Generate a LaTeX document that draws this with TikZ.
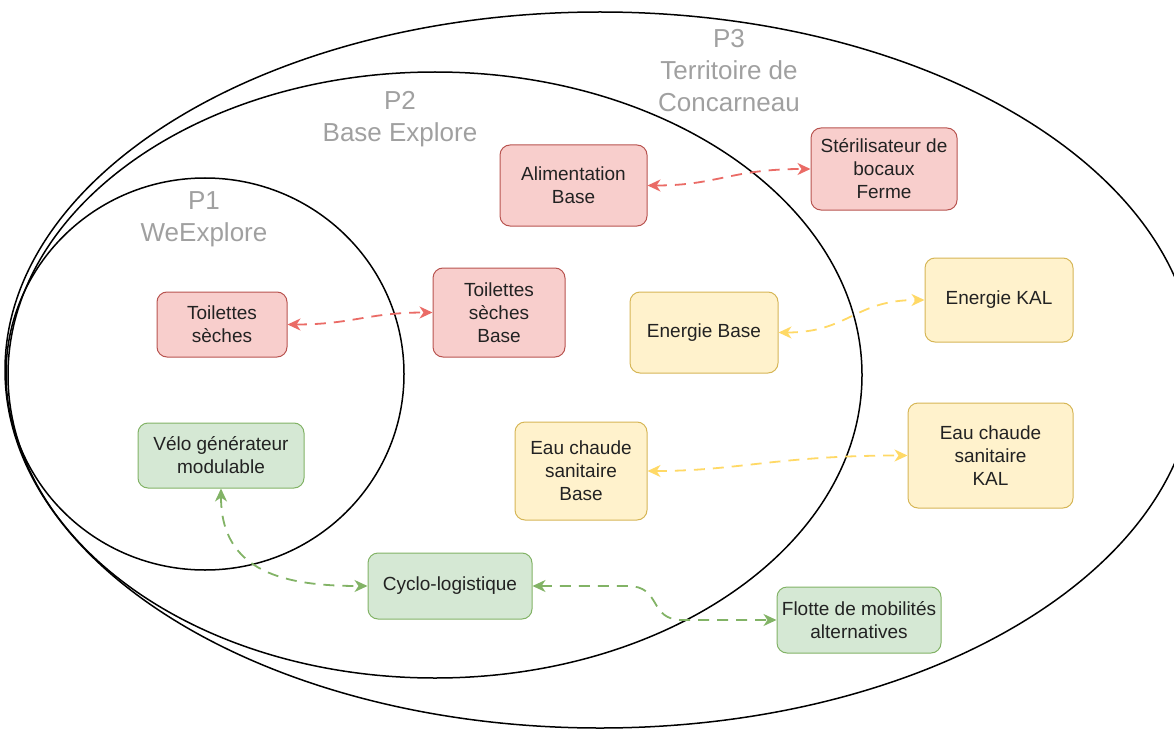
\documentclass[tikz,border=0pt]{standalone}
\usepackage{fontspec}
\setmainfont{Liberation Sans}
\usetikzlibrary{arrows.meta}
\definecolor{rfill}{HTML}{F8CECC}
\definecolor{rdraw}{HTML}{B85450}
\definecolor{redge}{HTML}{EA6B66}
\definecolor{yfill}{HTML}{FFF2CC}
\definecolor{ydraw}{HTML}{D6B656}
\definecolor{yedge}{HTML}{FFD966}
\definecolor{gfill}{HTML}{D5E8D4}
\definecolor{gdraw}{HTML}{82B366}
\definecolor{gedge}{HTML}{82B366}
\definecolor{lblgray}{HTML}{A0A0A0}
\definecolor{txt}{HTML}{222222}
\tikzset{
  zone/.style={draw=black, line width=1.5pt},
  zonelabel/.style={text=lblgray, align=center, font=\fontsize{26}{32}\selectfont, inner sep=0pt},
  box/.style={rounded corners=10pt, line width=1pt, align=center, inner sep=0pt,
    text=txt, font=\fontsize{19}{23}\selectfont},
  redbox/.style={box, fill=rfill, draw=rdraw},
  yelbox/.style={box, fill=yfill, draw=ydraw},
  grnbox/.style={box, fill=gfill, draw=gdraw},
  link/.style={line width=1.8pt, dash pattern=on 11pt off 8pt,
    arrows={Stealth[length=13pt,width=12pt,inset=4pt]-Stealth[length=13pt,width=12pt,inset=4pt]}},
  redlink/.style={link, draw=redge},
  yellink/.style={link, draw=yedge},
  grnlink/.style={link, draw=gedge}
}
\begin{document}
\begin{tikzpicture}[x=1pt,y=-1pt]
\useasboundingbox (0,0) rectangle (1174,730);
% zones
\draw[zone] (600,370) ellipse [x radius=595pt, y radius=358pt];
\draw[zone] (435,375) ellipse [x radius=427pt, y radius=303pt];
\draw[zone] (205,374) ellipse [x radius=199pt, y radius=196pt];
% zone labels
\node[zonelabel] (lp1) at (204,219) {P1\\WeExplore};
\node[zonelabel] (lp2) at (400,119) {P2\\Base Explore};
\node[zonelabel] (lp3) at (729,71) {P3\\Territoire de\\Concarneau};
% nodes
\node[redbox, minimum width=147pt, minimum height=81pt] (alim) at (573.5,185.5) {Alimentation\\Base};
\node[redbox, minimum width=146pt, minimum height=82pt] (steril) at (884,169) {Stérilisateur de\\bocaux\\Ferme};
\node[redbox, minimum width=130pt, minimum height=65pt] (toil1) at (222,324.5) {Toilettes\\sèches};
\node[redbox, minimum width=132pt, minimum height=89pt] (toil2) at (499,312.5) {Toilettes\\sèches\\Base};
\node[yelbox, minimum width=148pt, minimum height=81pt] (enbase) at (704,332.5) {Energie Base};
\node[yelbox, minimum width=148pt, minimum height=84pt] (enkal) at (999,300) {Energie KAL};
\node[yelbox, minimum width=132pt, minimum height=98pt] (eaubase) at (581,471) {Eau chaude\\sanitaire\\Base};
\node[yelbox, minimum width=165pt, minimum height=105pt] (eaukal) at (990.5,455.5) {Eau chaude\\sanitaire\\KAL};
\node[grnbox, minimum width=166pt, minimum height=65pt] (velo) at (221,455.5) {Vélo générateur\\modulable};
\node[grnbox, minimum width=164pt, minimum height=66pt] (cyclo) at (450,586) {Cyclo-logistique};
\node[grnbox, minimum width=164pt, minimum height=66pt] (flotte) at (859,620) {Flotte de mobilités\\alternatives};
% links
\draw[redlink] (alim.east) .. controls +(70,0) and +(-80,0) .. (steril.west);
\draw[redlink] (toil1.east) .. controls +(65,0) and +(-65,0) .. (toil2.west);
\draw[yellink] (enbase.east) .. controls +(70,0) and +(-70,0) .. (enkal.west);
\draw[yellink] (eaubase.east) .. controls +(90,0) and +(-130,0) .. (eaukal.west);
\draw[grnlink] (velo.south) .. controls +(0,85) and +(-80,0) .. (cyclo.west);
\draw[grnlink] (cyclo.east) -- ++(95,0) .. controls +(35,0) and +(-35,0) .. ++(55,34) -- (flotte.west);
\end{tikzpicture}
\end{document}
